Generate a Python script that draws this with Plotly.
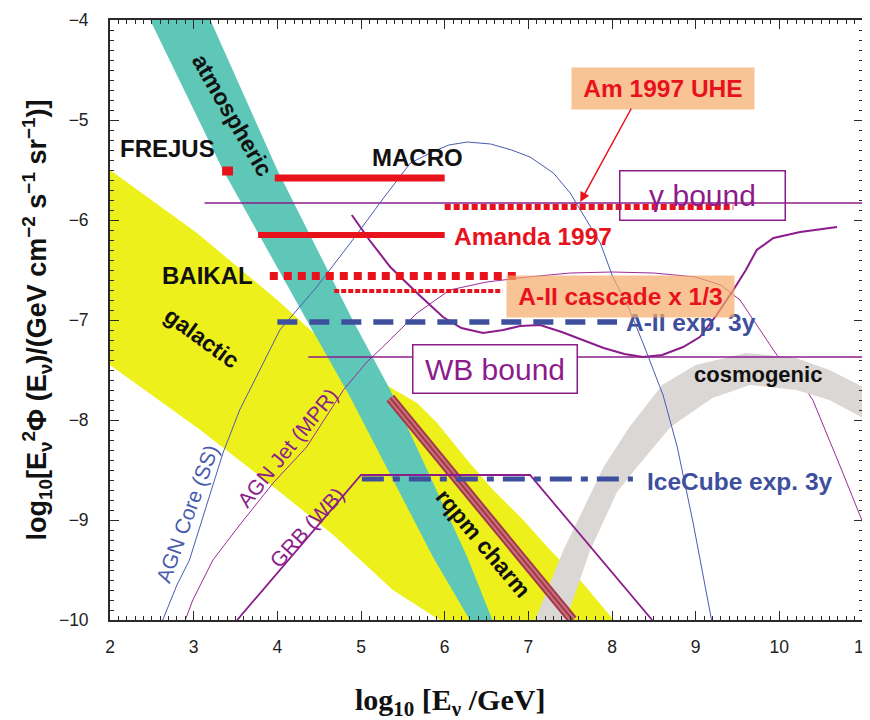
import plotly.graph_objects as go

# ---------------- data ----------------
# galactic band (yellow)
gal_upper_x = [2.0, 3.04, 4.0, 4.66, 5.2, 5.67, 5.91, 6.3, 6.58, 6.94, 7.26, 7.65, 8.02]
gal_upper_y = [-5.5, -6.13, -6.8, -7.3, -7.6, -7.83, -8.03, -8.43, -8.7, -9.0, -9.3, -9.63, -10.0]
gal_lower_x = [2.0, 3.08, 4.0, 4.67, 4.87, 5.38, 5.94]
gal_lower_y = [-7.45, -8.1, -8.7, -9.15, -9.3, -9.7, -10.0]

# atmospheric band (teal)
atm_left_x = [2.48, 3.35, 4.35, 4.87, 5.86, 6.3]
atm_left_y = [-4.0, -5.5, -7.0, -7.77, -9.37, -10.0]
atm_right_x = [3.2, 4.0, 4.9, 5.35, 6.27, 6.57]
atm_right_y = [-4.0, -5.5, -7.0, -7.7, -9.37, -10.0]

# cosmogenic band (grey)
cos_outer_x = [7.08, 7.42, 7.9, 8.2, 8.6, 9.0, 9.6, 10.2, 10.6, 11.0]
cos_outer_y = [-10.0, -9.3, -8.47, -8.08, -7.65, -7.45, -7.33, -7.38, -7.5, -7.67]
cos_inner_x = [7.45, 7.74, 8.06, 8.3, 8.7, 9.2, 9.65, 10.2, 10.6, 11.0]
cos_inner_y = [-10.0, -9.3, -8.72, -8.47, -8.07, -7.78, -7.65, -7.7, -7.8, -7.98]

# rqpm charm band
charm_x = [5.35, 7.53]
charm_y = [-7.78, -10.0]

# models
core_x = [2.63, 2.8, 2.95, 3.1, 3.25, 3.35, 3.55, 3.76, 4.03, 4.47, 4.9, 5.27, 5.59, 5.85,
          6.05, 6.27, 6.55, 6.8, 7.02, 7.3, 7.5, 7.86, 8.01, 8.21, 8.37, 8.61, 8.78, 8.97, 9.19]
core_y = [-10.0, -9.65, -9.4, -9.0, -8.6, -8.33, -7.9, -7.55, -7.1, -6.67, -6.2, -5.78, -5.43, -5.32,
          -5.25, -5.22, -5.24, -5.3, -5.37, -5.53, -5.73, -6.23, -6.57, -6.9, -7.23, -7.75, -8.27, -9.03, -10.0]

jet_x = [2.9, 2.99, 3.23, 3.55, 3.95, 4.35, 4.79, 5.07, 5.26, 5.67, 6.06, 6.5, 7.0, 7.5, 8.0,
         8.5, 9.0, 9.3, 9.53, 9.77, 9.97, 10.2, 10.4, 10.76, 11.0]
jet_y = [-10.0, -9.8, -9.4, -9.05, -8.63, -8.27, -7.7, -7.42, -7.27, -6.93, -6.7, -6.62, -6.57, -6.53, -6.52,
         -6.53, -6.57, -6.65, -6.8, -7.1, -7.35, -7.55, -7.8, -8.53, -9.03]

grb_x = [3.52, 5.0, 7.02, 8.48]
grb_y = [-10.0, -8.55, -8.55, -10.0]

td_x = [4.89, 5.1, 5.35, 5.67, 5.98, 6.2, 6.46, 6.7, 6.9, 7.14, 7.4, 7.65, 7.9, 8.15, 8.37,
        8.6, 8.85, 9.05, 9.25, 9.45, 9.6, 9.73, 9.93, 10.25, 10.69]
td_y = [-5.95, -6.2, -6.47, -6.73, -6.97, -7.08, -7.13, -7.1, -7.06, -7.05, -7.12, -7.2, -7.28, -7.34, -7.37,
        -7.35, -7.27, -7.17, -6.95, -6.7, -6.5, -6.3, -6.18, -6.12, -6.07]

gam_x = [3.13, 11.0]
gam_y = [-5.83, -5.83]
wb_x = [4.37, 11.0]
wb_y = [-7.37, -7.37]

# experimental limits / sensitivities
frejus_x = [3.34, 3.47]
frejus_y = [-5.51, -5.51]
macro_x = [3.97, 6.0]
macro_y = [-5.58, -5.58]
amanda_x = [3.77, 6.0]
amanda_y = [-6.15, -6.15]
amuhe_x = [6.0, 9.45]
amuhe_y = [-5.87, -5.87]
baikal_x = [3.91, 6.9]
baikal_y = [-6.56, -6.56]
a2casc_x = [4.68, 6.69]
a2casc_y = [-6.71, -6.71]
a2exp_x = [4.0, 8.06]
a2exp_y = [-7.02, -7.02]
icecube_x = [5.01, 8.25]
icecube_y = [-8.59, -8.59]

x_ticks = [2, 3, 4, 5, 6, 7, 8, 9, 10, 11]
y_ticks = [-10, -9, -8, -7, -6, -5, -4]

# ---------------- colours ----------------
YELLOW = "#EEF01C"
TEAL = "#5EC7B7"
GREY = "#DAD7D4"
RED = "#E8121C"
PURPLE = "#8C1C8C"
BLUE = "#3E4F9E"
FONT = "Liberation Sans, Arial, sans-serif"

fig = go.Figure()


def band(ux, uy, lx, ly, color):
    fig.add_trace(go.Scatter(x=list(ux) + list(lx)[::-1], y=list(uy) + list(ly)[::-1],
                             fill="toself", fillcolor=color, line=dict(width=0),
                             mode="lines", hoverinfo="skip"))


def line(x, y, color, width, dash="solid"):
    fig.add_trace(go.Scatter(x=x, y=y, mode="lines",
                             line=dict(color=color, width=width, dash=dash),
                             hoverinfo="skip"))


band(gal_upper_x, gal_upper_y, gal_lower_x, gal_lower_y, YELLOW)
band(atm_left_x, atm_left_y, atm_right_x, atm_right_y, TEAL)
line(jet_x, jet_y, "#9B2C9B", 1)
band(cos_outer_x, cos_outer_y, cos_inner_x, cos_inner_y, GREY)

# charm band (striped look)
line(charm_x, charm_y, "#A23848", 10)
line(charm_x, charm_y, "#C8707C", 6)
line(charm_x, charm_y, "#A23848", 2)

line(grb_x, grb_y, PURPLE, 1.8)
line(td_x, td_y, PURPLE, 2)
line(gam_x, gam_y, PURPLE, 1.4)
line(wb_x, wb_y, PURPLE, 1.4)
line(core_x, core_y, "#4A5CAE", 1)

line(frejus_x, frejus_y, RED, 9)
line(macro_x, macro_y, RED, 7)
line(amanda_x, amanda_y, RED, 6)
line(amuhe_x, amuhe_y, RED, 6, "6px,3px")
line(baikal_x, baikal_y, RED, 8, "8px,6px")
line(a2casc_x, a2casc_y, RED, 4, "5px,2px")
line(a2exp_x, a2exp_y, BLUE, 5.5, "20px,12px")
line(icecube_x, icecube_y, BLUE, 5, "22px,9px,7px,9px")

# ---------------- text labels ----------------
def label(text, x, y, color="#111111", size=24, bold=True, angle=0, **kw):
    t = f"<b>{text}</b>" if bold else text
    fig.add_annotation(x=x, y=y, xref="x", yref="y", text=t, showarrow=False,
                       textangle=angle, font=dict(family=FONT, size=size, color=color), **kw)


label("FREJUS", 2.69, -5.28, size=24)
label("MACRO", 5.68, -5.37, size=24)
label("BAIKAL", 3.17, -6.55, size=24)
label("Amanda 1997", 7.06, -6.16, color=RED, size=24.5)
label("A-II exp. 3y", 8.95, -7.02, color=BLUE, size=24.5)
label("IceCube exp. 3y", 9.53, -8.61, color=BLUE, size=24.5)
label("cosmogenic", 9.745, -7.54, size=22)
label("atmospheric", 3.46, -4.95, size=23, angle=60)
label("galactic", 3.1, -7.18, size=23, angle=36)
label("rqpm charm", 6.46, -9.23, size=23, angle=50)
label("AGN Core (SS)", 2.92, -8.93, color="#4A5CAE", size=21, bold=False, angle=-70)
label("AGN Jet (MPR)", 4.12, -8.27, color=PURPLE, size=21, bold=False, angle=-51)
label("GRB (WB)", 4.35, -9.07, color=PURPLE, size=21, bold=False, angle=-48)

# boxed labels
ORANGE = "rgba(245,171,105,0.7)"
label("Am 1997 UHE", 8.61, -4.685, color=RED, size=24.5,
      bgcolor=ORANGE, width=182, height=41, borderpad=0)
label("A-II cascade x 1/3", 8.10, -6.765, color=RED, size=24.5,
      bgcolor=ORANGE, width=227, height=41, borderpad=0)
label("γ bound", 9.087, -5.75, color=PURPLE, size=30, bold=False,
      bordercolor=PURPLE, borderwidth=1.5, width=164, height=48, borderpad=0)
label("WB bound", 6.607, -7.485, color=PURPLE, size=30, bold=False,
      bgcolor="white", bordercolor=PURPLE, borderwidth=1.5, width=163, height=47, borderpad=0)

# arrow from the "Am 1997 UHE" box to its limit line
fig.add_annotation(x=7.62, y=-5.82, ax=8.24, ay=-4.87, xref="x", yref="y",
                   axref="x", ayref="y", text="", showarrow=True,
                   arrowhead=2, arrowsize=1.3, arrowwidth=1.5, arrowcolor=RED)

# x-axis title (placed left of the plot centre, as in the reference)
fig.add_annotation(x=0.4515, y=-0.137, xref="paper", yref="paper", showarrow=False,
                   xanchor="center", yanchor="middle",
                   text="<b>log<sub>10</sub> [E<sub>ν</sub> /GeV]</b>",
                   font=dict(family="Liberation Serif, Times New Roman, serif",
                             size=30, color="#111111"))

# ---------------- axes ----------------
axis_common = dict(showgrid=False, zeroline=False, showline=True, linecolor="#2a2a2a",
                   linewidth=1.8, mirror="allticks", ticks="inside", ticklen=9,
                   tickwidth=1.2, tickcolor="#2a2a2a", automargin=False,
                   tickfont=dict(family=FONT, size=17.5, color="#222222"),
                   minor=dict(dtick=0.1, ticks="inside", ticklen=4, tickwidth=1,
                              tickcolor="#2a2a2a"))

fig.update_xaxes(range=[2, 11], tickvals=x_ticks, ticklabelstandoff=10,
                 ticklabeloverflow="allow", **axis_common)
fig.update_yaxes(range=[-10, -4], tickvals=y_ticks, ticklabelstandoff=16,
                 title=dict(text="<b>log<sub>10</sub>[E<sub>ν</sub><sup>2</sup>Φ (E<sub>ν</sub>)"
                                 "/(GeV cm<sup>−2</sup> s<sup>−1</sup> sr<sup>−1</sup>)]</b>",
                            font=dict(family=FONT, size=27, color="#111111"),
                            standoff=4),
                 **axis_common)

# the page body adds an 8 px offset, so the figure is 8 px smaller than the window
fig.update_layout(width=862, height=712, margin=dict(l=102, r=7, t=12, b=100),
                  plot_bgcolor="white", paper_bgcolor="white", showlegend=False)

fig.write_html("out.html")
